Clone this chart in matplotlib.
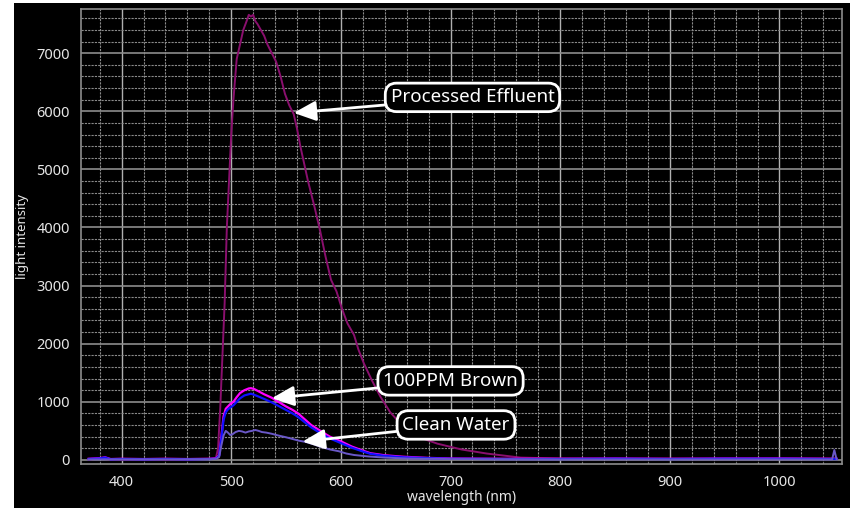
import matplotlib.pyplot as plt
from matplotlib.patches import Rectangle
from matplotlib.ticker import MultipleLocator

# Processed Effluent
pe_x = [370, 380, 390, 400, 420, 440, 460, 480, 486, 488, 490, 492, 494, 496, 498, 500, 502, 505, 508,
        511, 514, 516, 518, 520, 522, 524, 527, 530, 533, 537, 541, 545, 549, 553, 557, 560, 563, 570,
        576, 581, 586, 591, 596, 601, 606, 612, 616, 621, 628, 636, 645, 657, 670, 688, 710, 733, 764,
        800, 850, 900, 950, 1000, 1052]
pe_y = [10, 20, 10, 5, 10, 5, 10, 15, 30, 200, 900, 1800, 2700, 4000, 4800, 5600, 6200, 6900, 7150,
        7400, 7550, 7660, 7630, 7660, 7550, 7500, 7400, 7300, 7150, 7000, 6850, 6600, 6300, 6100, 5950,
        5700, 5400, 4800, 4350, 3950, 3500, 3100, 2900, 2600, 2350, 2150, 1900, 1660, 1380, 1090, 820,
        570, 400, 280, 180, 110, 40, 25, 15, 20, 15, 20, 20]

# 100PPM Brown (magenta)
br_x = [370, 380, 385, 390, 400, 420, 440, 460, 480, 486, 489, 491, 493, 495, 497, 499, 502, 505, 508,
        512, 516, 518, 521, 525, 530, 537, 543, 550, 556, 561, 567, 573, 578, 583, 590, 600, 610, 620,
        627, 640, 657, 680, 700, 750, 800, 850, 900, 950, 1000, 1052]
br_y = [20, 30, 45, 15, 20, 15, 20, 15, 20, 25, 80, 400, 750, 880, 920, 960, 1000, 1080, 1150,
        1200, 1230, 1235, 1220, 1180, 1130, 1070, 1000, 920, 860, 800, 700, 600, 540, 480, 400, 320,
        230, 160, 115, 80, 55, 35, 25, 20, 20, 25, 20, 25, 25, 20]

# Blue
bl_x = [370, 380, 385, 390, 400, 420, 440, 460, 480, 486, 489, 491, 493, 495, 497, 499, 502, 505, 508,
        512, 516, 518, 521, 525, 530, 537, 543, 550, 556, 561, 567, 573, 578, 583, 590, 600, 610, 620,
        627, 640, 657, 680, 700, 750, 800, 850, 900, 950, 1000, 1052]
bl_y = [15, 25, 40, 10, 15, 10, 15, 10, 15, 20, 70, 360, 690, 820, 870, 900, 940, 1000, 1060,
        1110, 1130, 1140, 1120, 1090, 1050, 990, 930, 860, 800, 740, 650, 560, 500, 440, 370, 290,
        210, 145, 105, 70, 45, 30, 20, 15, 15, 20, 15, 20, 20, 15]

# Clean Water
cw_x = [370, 400, 450, 486, 489, 491, 493, 495, 497, 499, 501, 504, 507, 510, 513, 516, 519, 522, 525,
        528, 532, 537, 543, 550, 556, 562, 568, 575, 581, 590, 598, 605, 612, 625, 640, 660, 700, 800,
        900, 1000, 1048, 1050, 1052]
cw_y = [10, 10, 10, 15, 50, 250, 420, 500, 470, 430, 440, 480, 500, 490, 470, 490, 500, 515, 500,
        480, 470, 450, 420, 390, 360, 330, 310, 270, 230, 180, 150, 110, 85, 60, 40, 25, 15, 10,
        10, 10, 10, 170, 15]

fig = plt.figure(figsize=(8.5, 5.08), dpi=100, facecolor='white')
fig.patches.append(Rectangle((14 / 850, 0), 1, 505 / 508, transform=fig.transFigure,
                             facecolor='black', edgecolor='none', zorder=-1))
ax = fig.add_axes([81 / 850, 44 / 508, 761 / 850, 455 / 508])
ax.set_facecolor('black')

ax.plot(pe_x, pe_y, color='#8a0f6e', lw=1.4)
ax.plot(br_x, br_y, color='#ff00ff', lw=1.6)
ax.plot(bl_x, bl_y, color='#1010ff', lw=1.6)
ax.plot(cw_x, cw_y, color='#6a58c8', lw=1.4)

ax.set_xlim(363, 1057)
ax.set_ylim(-70, 7760)
ax.xaxis.set_major_locator(MultipleLocator(100))
ax.xaxis.set_minor_locator(MultipleLocator(20))
ax.yaxis.set_major_locator(MultipleLocator(1000))
ax.yaxis.set_minor_locator(MultipleLocator(200))

ax.grid(which='major', axis='x', color='#b0b0b0', lw=1.0)
ax.grid(which='major', axis='y', color='#8c8c8c', lw=1.2)
ax.grid(which='minor', color='#8a8a8a', lw=0.8, ls=(0, (2, 1)))
ax.set_axisbelow(True)

for s in ax.spines.values():
    s.set_color('#8c8c8c')
    s.set_linewidth(1.2)

ax.tick_params(which='both', length=0, colors='#e6e6e6', labelsize=10.5, pad=8)
for lbl in ax.get_xticklabels() + ax.get_yticklabels():
    lbl.set_family('Noto Sans')

ax.set_xlabel('wavelength (nm)', color='#e6e6e6', fontsize=10, family='Noto Sans', labelpad=0)
ax.set_ylabel('light intensity', color='#e6e6e6', fontsize=9.5, family='Noto Sans', labelpad=5)

box = dict(boxstyle='round,pad=0.28,rounding_size=0.6', fc='black', ec='white', lw=2)
arrow = dict(arrowstyle='-|>,head_length=1.0,head_width=0.45', color='white', lw=2, shrinkA=0, shrinkB=0)
ax.annotate('Processed Effluent', xy=(557, 5972), xytext=(720, 6239), color='white', fontsize=13.5,
            family='Noto Sans', ha='center', va='center', bbox=box, arrowprops=arrow)
ax.annotate('100PPM Brown', xy=(537, 1062), xytext=(700, 1360), color='white', fontsize=13.5,
            family='Noto Sans', ha='center', va='center', bbox=box, arrowprops=arrow)
ax.annotate('Clean Water', xy=(565, 315), xytext=(705, 602), color='white', fontsize=13.5,
            family='Noto Sans', ha='center', va='center', bbox=box, arrowprops=arrow)

fig.savefig('out.png', dpi=100, facecolor=fig.get_facecolor())
